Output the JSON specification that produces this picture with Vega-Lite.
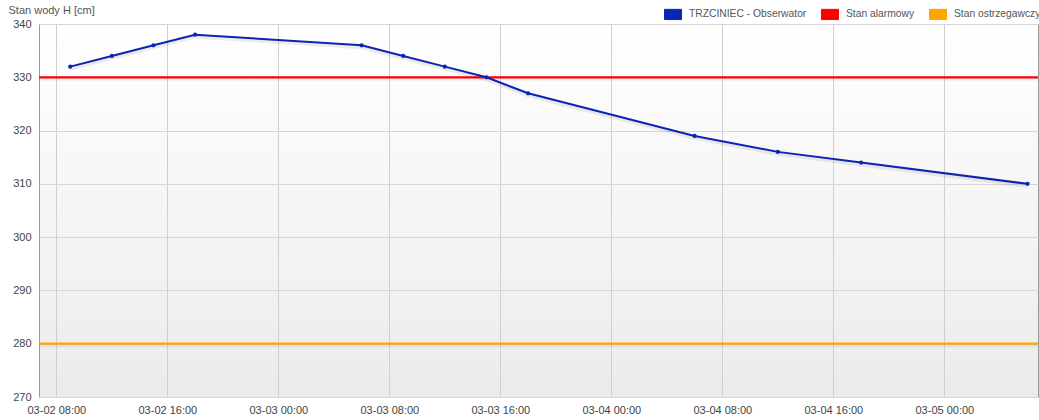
{
  "$schema": "https://vega.github.io/schema/vega-lite/v6.json",
  "width": 999,
  "height": 373,
  "autosize": {"type": "none"},
  "padding": {"left": 39, "top": 24, "right": 1, "bottom": 23},
  "background": "#ffffff",
  "view": {
    "fill": {"gradient": "linear", "x1": 0, "y1": 0, "x2": 0, "y2": 1,
      "stops": [{"offset": 0, "color": "#ffffff"}, {"offset": 1, "color": "#ebebeb"}]},
    "stroke": "#9a9a9a",
    "strokeWidth": 1
  },
  "config": {
    "font": "Liberation Sans",
    "axis": {"labelFont": "Liberation Sans", "labelFontSize": 11, "labelColor": "#444444", "titleFont": "Liberation Sans"},
    "legend": {"labelFont": "Liberation Sans", "labelFontSize": 10.3, "labelColor": "#555555"}
  },
  "datasets": {
    "obs": [
      {"time": "2024-03-02T09:00", "level": 332, "series": "TRZCINIEC - Obserwator"},
      {"time": "2024-03-02T12:00", "level": 334, "series": "TRZCINIEC - Obserwator"},
      {"time": "2024-03-02T15:00", "level": 336, "series": "TRZCINIEC - Obserwator"},
      {"time": "2024-03-02T18:00", "level": 338, "series": "TRZCINIEC - Obserwator"},
      {"time": "2024-03-03T06:00", "level": 336, "series": "TRZCINIEC - Obserwator"},
      {"time": "2024-03-03T09:00", "level": 334, "series": "TRZCINIEC - Obserwator"},
      {"time": "2024-03-03T12:00", "level": 332, "series": "TRZCINIEC - Obserwator"},
      {"time": "2024-03-03T15:00", "level": 330, "series": "TRZCINIEC - Obserwator"},
      {"time": "2024-03-03T18:00", "level": 327, "series": "TRZCINIEC - Obserwator"},
      {"time": "2024-03-04T06:00", "level": 319, "series": "TRZCINIEC - Obserwator"},
      {"time": "2024-03-04T12:00", "level": 316, "series": "TRZCINIEC - Obserwator"},
      {"time": "2024-03-04T18:00", "level": 314, "series": "TRZCINIEC - Obserwator"},
      {"time": "2024-03-05T06:00", "level": 310, "series": "TRZCINIEC - Obserwator"}
    ],
    "thresholds": [
      {"series": "Stan alarmowy", "level": 330},
      {"series": "Stan ostrzegawczy", "level": 280}
    ]
  },
  "layer": [
    {
      "data": {"name": "thresholds"},
      "mark": {"type": "rule", "strokeWidth": 4, "color": "#000000", "opacity": 0.05, "yOffset": 1.5},
      "encoding": {
        "y": {"field": "level", "type": "quantitative"}
      }
    },
    {
      "data": {"name": "thresholds"},
      "mark": {"type": "rule", "strokeWidth": 2.2},
      "encoding": {
        "y": {"field": "level", "type": "quantitative",
          "scale": {"domain": [270, 340], "nice": false, "zero": false},
          "axis": {
            "values": [270, 280, 290, 300, 310, 320, 330, 340],
            "grid": true, "gridColor": "#d6d6d6", "gridWidth": 1,
            "domain": false, "ticks": false, "labelPadding": 8,
            "title": "Stan wody H [cm]", "titleAngle": 0, "titleAlign": "left",
            "titleBaseline": "middle", "titleX": -31, "titleY": -14,
            "titleFontSize": 11, "titleFontWeight": "normal", "titleColor": "#555555"
          }
        },
        "color": {"field": "series", "type": "nominal",
          "scale": {"domain": ["TRZCINIEC - Obserwator", "Stan alarmowy", "Stan ostrzegawczy"],
                    "range": ["#0b24b4", "#ff0000", "#ffa500"]},
          "legend": {
            "orient": "none", "direction": "horizontal",
            "legendX": 625, "legendY": -19,
            "title": null,
            "symbolType": "M-1,-0.6H1V0.6H-1Z", "symbolSize": 289,
            "symbolStrokeWidth": 1,
            "labelOffset": 7, "columnPadding": 12,
            "encode": {"symbols": {"update": {
              "fill": {"scale": "color", "field": "value"},
              "fillOpacity": {"value": 1},
              "stroke": {"value": "#c8c8c8"},
              "strokeWidth": {"value": 1}
            }}}
          }
        }
      }
    },
    {
      "data": {"name": "obs"},
      "mark": {"type": "line", "strokeWidth": 4, "color": "#000000", "opacity": 0.07, "yOffset": 2},
      "encoding": {
        "x": {"field": "time", "type": "temporal"},
        "y": {"field": "level", "type": "quantitative"}
      }
    },
    {
      "data": {"name": "obs"},
      "mark": {"type": "line", "strokeWidth": 2},
      "encoding": {
        "x": {"field": "time", "type": "temporal",
          "scale": {"domain": [{"year": 2024, "month": 3, "date": 2, "hours": 6, "minutes": 45}, {"year": 2024, "month": 3, "date": 5, "hours": 6, "minutes": 45}], "nice": false},
          "axis": {
            "title": null,
            "values": [
              {"year": 2024, "month": 3, "date": 2, "hours": 8},
              {"year": 2024, "month": 3, "date": 2, "hours": 16},
              {"year": 2024, "month": 3, "date": 3, "hours": 0},
              {"year": 2024, "month": 3, "date": 3, "hours": 8},
              {"year": 2024, "month": 3, "date": 3, "hours": 16},
              {"year": 2024, "month": 3, "date": 4, "hours": 0},
              {"year": 2024, "month": 3, "date": 4, "hours": 8},
              {"year": 2024, "month": 3, "date": 4, "hours": 16},
              {"year": 2024, "month": 3, "date": 5, "hours": 0}
            ],
            "format": "%m-%d %H:%M",
            "grid": true, "gridColor": "#cfcfcf", "gridWidth": 1,
            "domain": false, "ticks": false, "labelPadding": 7
          }
        },
        "y": {"field": "level", "type": "quantitative"},
        "color": {"field": "series", "type": "nominal"}
      }
    },
    {
      "data": {"name": "obs"},
      "mark": {"type": "point", "filled": true, "size": 18, "opacity": 1, "color": "#0b24b4"},
      "encoding": {
        "x": {"field": "time", "type": "temporal"},
        "y": {"field": "level", "type": "quantitative"}
      }
    }
  ]
}
